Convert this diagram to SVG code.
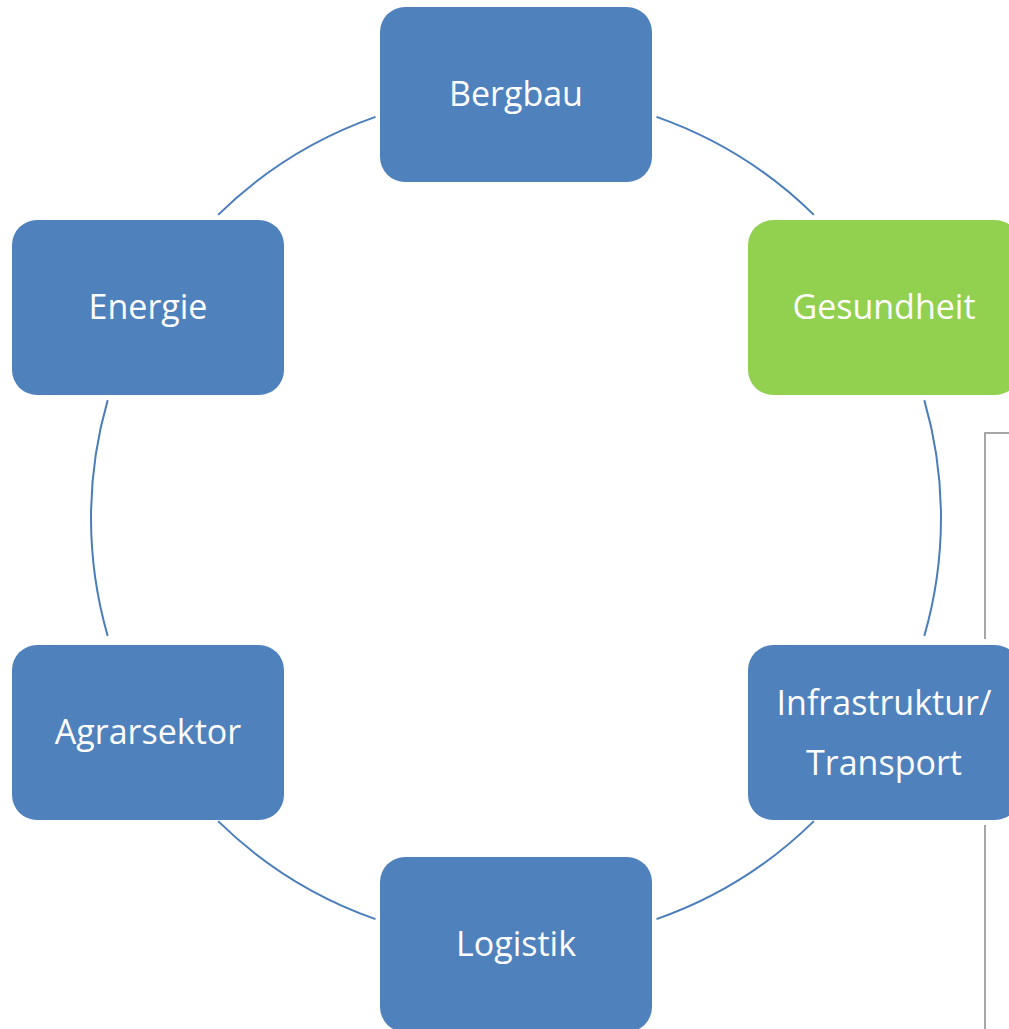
<svg xmlns="http://www.w3.org/2000/svg" width="1009" height="1029" viewBox="0 0 1009 1029">
<style>
.box{fill:#4f81bd}
.green{fill:#92d050}
.lbl{fill:#ffffff;font-family:"Open Sans","Noto Sans",sans-serif;font-size:34px;text-anchor:middle}
.arc{fill:none;stroke:#4a7ebb;stroke-width:2}
.frame{fill:none;stroke:#a6a6a6;stroke-width:2}
</style>
<rect width="1009" height="1029" fill="#ffffff"/>
<g id="connectors">
<path class="arc" d="M218.1,214.9 A425,425 0 0 1 375.5,116.9"/>
<path class="arc" d="M656.5,116.9 A425,425 0 0 1 813.9,214.9"/>
<path class="arc" d="M924.3,400.1 A425,425 0 0 1 924.3,635.9"/>
<path class="arc" d="M813.9,821.1 A425,425 0 0 1 656.5,919.1"/>
<path class="arc" d="M375.5,919.1 A425,425 0 0 1 218.1,821.1"/>
<path class="arc" d="M107.7,635.9 A425,425 0 0 1 107.7,400.1"/>
</g>
<g id="frame">
<path class="frame" d="M985,639 V433 H1009"/>
<path class="frame" d="M985,825 V1029"/>
</g>
<g id="bergbau">
<rect class="box" x="380" y="7" width="272" height="175" rx="25"/>
<text class="lbl" x="516" y="106">Bergbau</text>
</g>
<g id="gesundheit">
<rect class="green" x="748" y="220" width="272" height="175" rx="25"/>
<text class="lbl" x="884" y="319">Gesundheit</text>
</g>
<g id="infrastruktur">
<rect class="box" x="748" y="645" width="272" height="175" rx="25"/>
<text class="lbl" x="884" y="715">Infrastruktur/</text>
<text class="lbl" x="884" y="775">Transport</text>
</g>
<g id="logistik">
<rect class="box" x="380" y="857" width="272" height="175" rx="25"/>
<text class="lbl" x="516" y="956">Logistik</text>
</g>
<g id="agrarsektor">
<rect class="box" x="12" y="645" width="272" height="175" rx="25"/>
<text class="lbl" x="148" y="744">Agrarsektor</text>
</g>
<g id="energie">
<rect class="box" x="12" y="220" width="272" height="175" rx="25"/>
<text class="lbl" x="148" y="319">Energie</text>
</g>
</svg>
